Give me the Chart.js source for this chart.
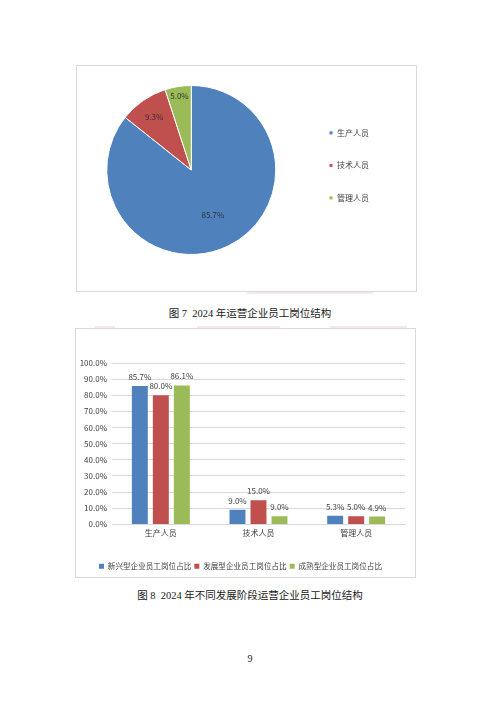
<!DOCTYPE html>
<html lang="zh">
<head>
<meta charset="utf-8">
<script src="https://cdn.jsdelivr.net/npm/chart.js@4.4.1/dist/chart.umd.min.js"></script>
<style>
body { margin: 0; background: #fff; width: 500px; height: 707px; position: relative; overflow: hidden; }
.frame { position: absolute; border: 1px solid #d9d9d9; box-sizing: border-box; }
.box { position: absolute; }
.caption { position: absolute; left: 0; width: 500px; text-align: center; font-family: "Liberation Serif", "Noto Sans CJK SC", serif; font-size: 10.5px; color: #1a1a1a; white-space: pre; }
.smear { position: absolute; height: 2px; background: #f9e6e6; }
</style>
</head>
<body>
<div class="smear" style="left:247px;top:292px;width:126px"></div>
<div class="smear" style="left:95px;top:326px;width:20px"></div>
<div class="smear" style="left:197px;top:326px;width:83px"></div>
<div class="smear" style="left:330px;top:326px;width:77px"></div>

<div class="frame" style="left:76px;top:65px;width:341px;height:227px"></div>
<div class="box" style="left:77px;top:66px;width:338px;height:225px"><canvas id="pie"></canvas></div>
<div class="caption" style="top:305px">图 7  2024 年运营企业员工岗位结构</div>

<div class="frame" style="left:75px;top:328px;width:341px;height:250px"></div>
<div class="box" style="left:76px;top:329px;width:339px;height:251px"><canvas id="bar"></canvas></div>
<div class="caption" style="top:587px">图 8  2024 年不同发展阶段运营企业员工岗位结构</div>

<div class="caption" style="top:653px;font-size:10px">9</div>

<script>
// figure 7: overall post structure
const roles = ["生产人员", "技术人员", "管理人员"];
const overallShare = [85.7, 9.3, 5.0];

// figure 8: by development stage
const stageNames = ["新兴型企业员工岗位占比", "发展型企业员工岗位占比", "成熟型企业员工岗位占比"];
const emergingShare = [85.7, 9.0, 5.3];
const developingShare = [80.0, 15.0, 5.0];
const matureShare = [86.1, 5.0, 4.9];          // bar heights as drawn in the source
const matureShareText = ["86.1%", "9.0%", "4.9%"]; // labels as printed in the source

const colors = ["#4F81BD", "#C0504D", "#9BBB59"];
const pct = v => v.toFixed(1) + "%";

Chart.defaults.font.family = '"Noto Sans CJK SC", "DejaVu Sans", sans-serif';
Chart.defaults.color = "#404040";

// where each pie label sits along the slice's middle ray (fraction of radius)
const pieLabelReach = [0.59, 0.77, 0.89];

const pieLabels = {
    id: "pieLabels",
    afterDatasetsDraw(chart) {
        const ctx = chart.ctx;
        const meta = chart.getDatasetMeta(0);
        ctx.save();
        ctx.font = '8px "Noto Sans CJK SC"';
        ctx.fillStyle = "#333";
        ctx.textAlign = "center";
        ctx.textBaseline = "middle";
        meta.data.forEach((arc, i) => {
            const p = arc.getProps(["x", "y", "startAngle", "endAngle", "outerRadius"], true);
            const mid = (p.startAngle + p.endAngle) / 2;
            const r = p.outerRadius * pieLabelReach[i];
            ctx.fillText(pct(overallShare[i]), p.x + Math.cos(mid) * r, p.y + Math.sin(mid) * r);
        });
        ctx.restore();
    }
};

new Chart(document.getElementById("pie"), {
    type: "pie",
    data: {
        labels: roles,
        datasets: [{
            data: overallShare,
            backgroundColor: colors,
            borderColor: "#fff",
            borderWidth: 1
        }]
    },
    options: {
        responsive: true,
        maintainAspectRatio: false,
        animation: false,
        layout: { padding: { left: 1, top: 19, right: 36, bottom: 36 } },
        plugins: {
            legend: {
                position: "right",
                align: "start",
                title: { display: true, text: "", padding: 2.5 },
                labels: { boxWidth: 4, boxHeight: 4, padding: 24.5, font: { size: 8 }, color: "#404040" }
            },
            tooltip: { enabled: false }
        }
    },
    plugins: [pieLabels]
});

const barText = [emergingShare.map(pct), developingShare.map(pct), matureShareText];

const barLabels = {
    id: "barLabels",
    afterDatasetsDraw(chart) {
        const ctx = chart.ctx;
        ctx.save();
        ctx.font = '8px "Noto Sans CJK SC"';
        ctx.fillStyle = "#404040";
        ctx.textAlign = "center";
        ctx.textBaseline = "middle";
        chart.data.datasets.forEach((ds, d) => {
            chart.getDatasetMeta(d).data.forEach((bar, i) => {
                ctx.fillText(barText[d][i], bar.x, bar.y - 9);
            });
        });
        ctx.restore();
    }
};

new Chart(document.getElementById("bar"), {
    type: "bar",
    data: {
        labels: roles,
        datasets: [
            { label: stageNames[0], data: emergingShare, backgroundColor: colors[0] },
            { label: stageNames[1], data: developingShare, backgroundColor: colors[1] },
            { label: stageNames[2], data: matureShare, backgroundColor: colors[2] }
        ]
    },
    options: {
        responsive: true,
        maintainAspectRatio: false,
        animation: false,
        categoryPercentage: 0.645,
        barPercentage: 0.76,
        layout: { padding: { left: 0, top: 34, right: 10, bottom: 0 } },
        scales: {
            x: {
                grid: { display: false, drawTicks: false },
                border: { color: "#d9d9d9" },
                ticks: { font: { size: 8 }, color: "#404040", padding: 4 },
                afterFit(s) { s.height = 35; }
            },
            y: {
                min: 0,
                max: 100,
                ticks: { stepSize: 10, callback: v => pct(v), font: { size: 8 }, color: "#404040", padding: 5 },
                grid: { color: "#d9d9d9", drawTicks: false },
                border: { display: false },
                afterFit(s) { s.width = 36; }
            }
        },
        plugins: {
            legend: {
                position: "bottom",
                labels: { boxWidth: 5, boxHeight: 5, padding: 3, font: { size: 7.6 }, color: "#404040" }
            },
            tooltip: { enabled: false }
        }
    },
    plugins: [barLabels]
});
</script>
</body>
</html>
